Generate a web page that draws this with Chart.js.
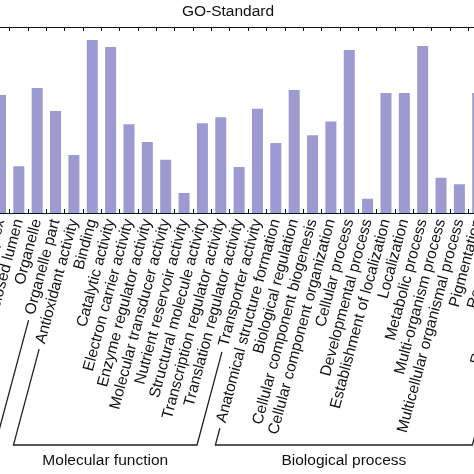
<!DOCTYPE html>
<html><head><meta charset="utf-8">
<script src="https://cdn.jsdelivr.net/npm/chart.js@4"></script>
<style>
html,body{margin:0;padding:0;background:#fff;overflow:hidden;width:474px;height:474px;}
#wrap{position:absolute;left:-86px;top:0;width:628px;height:474px;}
</style></head><body>
<div id="wrap"><canvas id="c"></canvas></div>
<script>
// ---- data ----
const categories = [
  'Macromolecular complex','Membrane-enclosed lumen','Organelle','Organelle part',
  'Antioxidant activity','Binding','Catalytic activity','Electron carrier activity',
  'Enzyme regulator activity','Molecular transducer activity','Nutrient reservoir activity',
  'Structural molecule activity','Transcription regulator activity','Translation regulator activity',
  'Transporter activity','Anatomical structure formation','Biological regulation',
  'Cellular component biogenesis','Cellular component organization','Cellular process',
  'Developmental process','Establishment of localization','Localization','Metabolic process',
  'Multi-organism process','Multicellular organismal process','Pigmentation',
  'Reproduction','Reproductive process','Response to stimulus'
];
// percent of genes (log axis); the last three bars are outside the picture
const percentOfGenes = [
  8.0, 0.57, 10.4, 4.4,
  0.86, 61.7, 47.5, 2.7,
  1.4, 0.72, 0.21,
  2.8, 3.5, 0.55,
  4.8, 1.35, 9.6,
  1.8, 3.0, 42.6,
  0.17, 8.6, 8.6, 49.4,
  0.37, 0.29, 8.6,
  null, null, null
];
const groupNames = ['Cellular component','Molecular function','Biological process'];
const groupFirst = [null, 4, 15];
const groupLast  = [3, 14, 29];
const chartTitle = 'GO-Standard';
const yMin = 0.1, yMax = 100;

// ---- styling ----
const FONT = "'Liberation Sans', Arial, Helvetica, sans-serif";
const FS = 15.5;
const BAR = '#9c9ad0';
const INK = '#111';

const bracketPlugin = {
  id: 'brackets',
  afterDraw(chart) {
    const ctx = chart.ctx;
    const xs = chart.scales.x;
    const items = xs.getLabelItems();
    const Y = 445, GAP = 6;
    ctx.save();
    ctx.font = FS + 'px ' + FONT;
    function startPoint(i) {
      const it = items[i];
      const [tx, ty] = it.options.translation;
      const rot = it.options.rotation;
      const w = ctx.measureText(it.label).width;
      const c = Math.cos(rot), s = Math.sin(rot);
      const px = -w - GAP, py = it.textOffset;
      return {x: tx + px*c - py*s, y: ty + px*s + py*c, dx: -c, dy: -s};
    }
    function foot(p) { const t = (Y - p.y) / p.dy; return {x: p.x + t*p.dx, y: Y}; }
    ctx.strokeStyle = '#222';
    ctx.lineWidth = 1.3;
    ctx.fillStyle = INK;
    ctx.textAlign = 'center';
    ctx.textBaseline = 'middle';
    for (let g = 0; g < groupNames.length; g++) {
      const pr = startPoint(groupLast[g]);
      const fr = foot(pr);
      let fl, pl;
      if (groupFirst[g] === null) {
        fl = {x: 0, y: Y};
      } else {
        pl = startPoint(groupFirst[g]);
        fl = foot(pl);
      }
      ctx.beginPath();
      if (pl) { ctx.moveTo(pl.x, pl.y); ctx.lineTo(fl.x, fl.y); }
      else ctx.moveTo(fl.x, fl.y);
      ctx.lineTo(fr.x, fr.y);
      ctx.lineTo(pr.x, pr.y);
      ctx.stroke();
      if (groupFirst[g] !== null) {
        ctx.fillText(groupNames[g], (fl.x + fr.x) / 2, Y + 16);
      }
    }
    ctx.restore();
  }
};

new Chart(document.getElementById('c'), {
  type: 'bar',
  data: {
    labels: categories,
    datasets: [{
      data: percentOfGenes,
      backgroundColor: BAR,
      borderWidth: 0,
      barPercentage: 0.6,
      categoryPercentage: 1.0
    }]
  },
  options: {
    responsive: true,
    maintainAspectRatio: false,
    animation: false,
    layout: { padding: 0 },
    plugins: {
      legend: { display: false },
      tooltip: { enabled: false },
      title: {
        display: true,
        text: chartTitle,
        color: INK,
        font: { family: FONT, size: FS, weight: 'normal' },
        padding: { top: 2.2, bottom: 6.2 }
      }
    },
    scales: {
      x: {
        type: 'category',
        position: 'bottom',
        offset: true,
        afterFit(s) { s.height = 474 - 213; s.paddingLeft = 0; s.paddingRight = 0; },
        grid: { display: true, drawOnChartArea: false, drawTicks: true, tickLength: -4, color: INK, offset: true },
        border: { display: true, color: INK, width: 1 },
        ticks: {
          autoSkip: false, minRotation: 75, maxRotation: 75,
          color: INK, padding: 8,
          font: { family: FONT, size: FS }
        }
      },
      xTop: {
        type: 'category',
        position: 'top',
        offset: true,
        afterFit(s) { s.height = 0; s.paddingLeft = 0; s.paddingRight = 0; },
        grid: { display: true, drawOnChartArea: false, drawTicks: true, tickLength: -4, color: INK, offset: true },
        border: { display: true, color: INK, width: 1 },
        ticks: { display: false }
      },
      y: {
        type: 'logarithmic',
        min: yMin, max: yMax,
        position: 'left',
        afterFit(s) { s.width = 77.3; s.paddingTop = 0; s.paddingBottom = 0; },
        grid: { display: false },
        border: { display: true, color: INK },
        ticks: { color: INK, font: { family: FONT, size: FS } }
      }
    }
  },
  plugins: [bracketPlugin]
});
</script>
</body></html>
